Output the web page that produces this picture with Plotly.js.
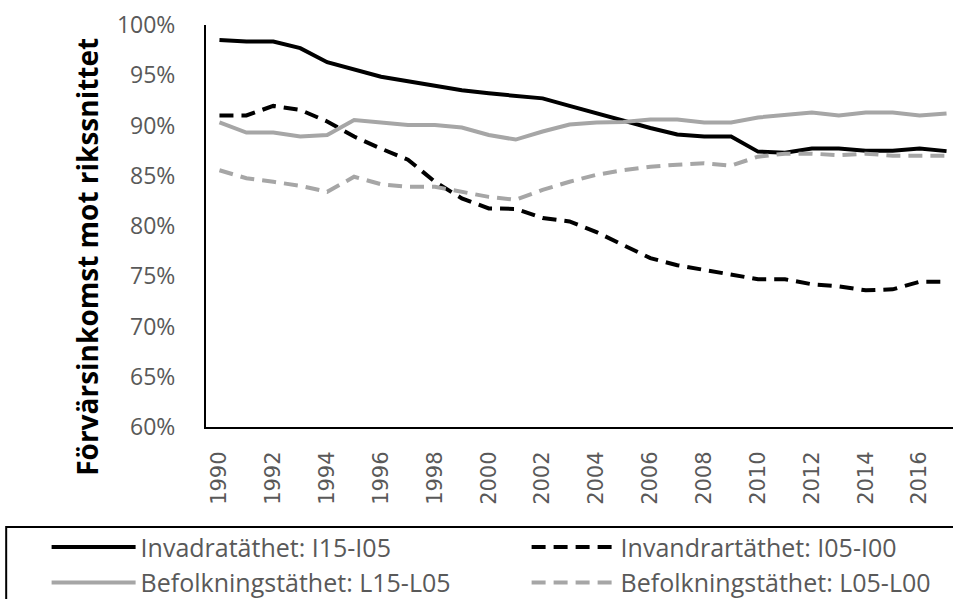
<!DOCTYPE html>
<html>
<head>
<meta charset="utf-8">
<script src="https://cdn.plot.ly/plotly-3.0.1.min.js"></script>
<style>
  html, body { margin: 0; padding: 0; background: #fff; overflow: hidden; }
  #chart { width: 975px; height: 620px; }
</style>
</head>
<body>
<div id="chart"></div>
<script>
// Disposable income relative to the national average, 1990-2017
const years = ['1990', '1991', '1992', '1993', '1994', '1995', '1996', '1997', '1998', '1999',
               '2000', '2001', '2002', '2003', '2004', '2005', '2006', '2007', '2008', '2009',
               '2010', '2011', '2012', '2013', '2014', '2015', '2016', '2017'];
const tickYears = ['1990', '1992', '1994', '1996', '1998', '2000', '2002', '2004',
                   '2006', '2008', '2010', '2012', '2014', '2016'];

const invI15I05 = [98.5, 98.35, 98.35, 97.7, 96.3, 95.6, 94.85, 94.4, 93.9, 93.5,
                   93.2, 92.95, 92.7, 91.95, 91.2, 90.45, 89.75, 89.1, 88.9, 88.9,
                   87.4, 87.3, 87.7, 87.7, 87.5, 87.5, 87.7, 87.45];
const invI05I00 = [91.0, 91.0, 91.95, 91.55, 90.4, 88.9, 87.7, 86.6, 84.4, 82.75,
                   81.75, 81.7, 80.8, 80.45, 79.4, 78.1, 76.8, 76.1, 75.6, 75.1,
                   74.7, 74.7, 74.2, 74.0, 73.6, 73.7, 74.45, 74.45];
const befL15L05 = [90.3, 89.3, 89.3, 88.9, 89.05, 90.55, 90.3, 90.05, 90.05, 89.8,
                   89.05, 88.6, 89.4, 90.1, 90.3, 90.35, 90.6, 90.6, 90.3, 90.3,
                   90.8, 91.05, 91.3, 91.0, 91.3, 91.3, 91.0, 91.2];
const befL05L00 = [85.55, 84.75, 84.4, 84.0, 83.4, 84.9, 84.15, 83.9, 83.9, 83.4,
                   82.9, 82.6, 83.6, 84.4, 85.1, 85.55, 85.9, 86.1, 86.25, 86.0,
                   86.9, 87.2, 87.2, 87.05, 87.2, 87.0, 87.0, 87.0];

const BLACK = '#000000';
const GREY = '#a6a6a6';
const TXT = '#595959';

const series = [
  { name: 'Invadratäthet: I15-I05', y: invI15I05, color: BLACK, dash: 'solid' },
  { name: 'Invandrartäthet: I05-I00', y: invI05I00, color: BLACK, dash: '14px,8px' },
  { name: 'Befolkningstäthet: L15-L05', y: befL15L05, color: GREY, dash: 'solid' },
  { name: 'Befolkningstäthet: L05-L00', y: befL05L00, color: GREY, dash: '14px,8px' },
];

const traces = series.map((s) => ({
  type: 'scatter', mode: 'lines', x: years, y: s.y, name: s.name,
  line: { color: s.color, width: 4, dash: s.dash },
  hoverinfo: 'x+y',
}));

const layout = {
  width: 975, height: 620,
  paper_bgcolor: '#fff', plot_bgcolor: '#fff',
  margin: { l: 206, r: 15, t: 25, b: 193, autoexpand: false },
  font: { family: 'Open Sans, sans-serif', color: TXT },
  showlegend: true,
  xaxis: {
    type: 'category', range: [-0.5, 27.5],
    tickvals: tickYears, ticktext: tickYears, tickangle: -90,
    tickfont: { family: 'DejaVu Sans, sans-serif', size: 21, color: TXT },
    ticks: 'outside', ticklen: 0, ticklabelstandoff: 14,
    showgrid: false, zeroline: false,
    showline: true, linecolor: BLACK, linewidth: 2,
  },
  yaxis: {
    range: [60, 100], dtick: 5, ticksuffix: '%',
    tickfont: { family: 'Open Sans, sans-serif', size: 23, color: TXT },
    ticks: 'outside', ticklen: 0, ticklabelstandoff: 24,
    showgrid: false, zeroline: false,
    showline: true, linecolor: BLACK, linewidth: 2,
  },
  shapes: [
    { type: 'line', xref: 'x', yref: 'y', x0: '1990', x1: '2017', y0: 100, y1: 100,
      line: { color: BLACK, width: 2, dash: '3px,6px' } },
    // legend frame, running off the right and bottom edges like the original
    { type: 'rect', xref: 'paper', yref: 'paper', x0: -0.265, x1: 1.05, y0: -0.2488, y1: -0.5,
      line: { color: BLACK, width: 2 }, fillcolor: 'rgba(0,0,0,0)', layer: 'below' },
  ],
  annotations: [
    { text: 'Förvärsinkomst mot rikssnittet', textangle: -90,
      xref: 'paper', yref: 'paper', x: -0.158, y: 0.423,
      xanchor: 'center', yanchor: 'middle', showarrow: false,
      font: { family: 'Open Sans, sans-serif', size: 28, color: BLACK, weight: 700 } },
  ],
  legend: {
    orientation: 'h', x: -0.2114, y: -0.242, xanchor: 'left', yanchor: 'top',
    borderwidth: 0, bgcolor: 'rgba(0,0,0,0)',
    font: { family: 'Open Sans, sans-serif', size: 25, color: TXT },
    entrywidth: 381, itemwidth: 84, traceorder: 'normal',
  },
};

Plotly.newPlot('chart', traces, layout, { displayModeBar: false, responsive: false });
</script>
</body>
</html>
